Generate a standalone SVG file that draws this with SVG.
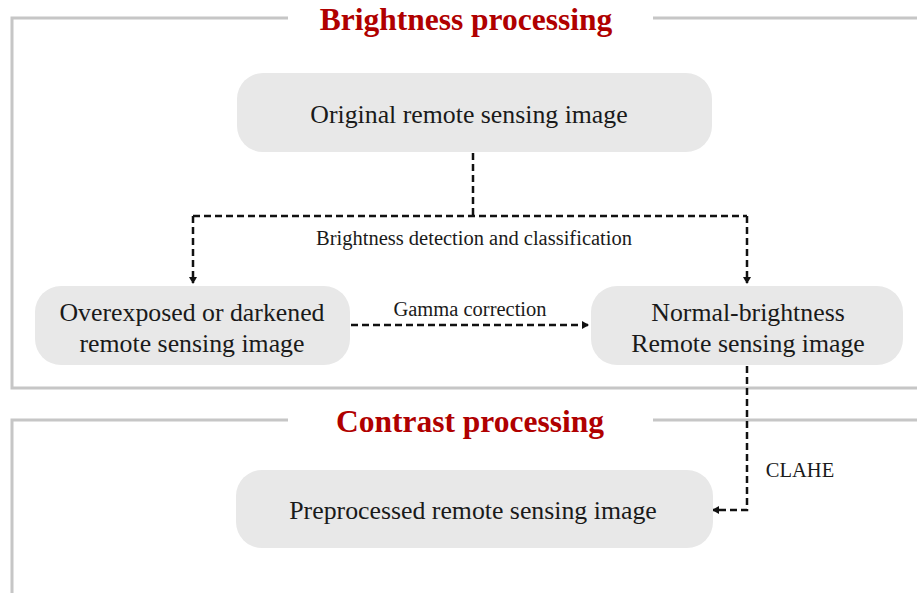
<svg xmlns="http://www.w3.org/2000/svg" width="917" height="593" viewBox="0 0 917 593">
  <style>
    .frame { fill: none; stroke: #c6c6c6; stroke-width: 3; }
    .box { fill: #e8e8e8; }
    .label { font-family: "Liberation Serif", "Times New Roman", serif; fill: #1a1a1a; text-anchor: middle; }
    .node-text { font-size: 25.8px; }
    .edge-text { font-size: 20.5px; }
    .title { font-family: "Liberation Serif", "Times New Roman", serif; font-weight: bold; font-size: 31.5px; fill: #b00000; text-anchor: middle; }
    .edge { fill: none; stroke: #111; stroke-width: 2.5; stroke-dasharray: 7 4; }
  </style>
  <defs>
    <marker id="arrow" markerWidth="8" markerHeight="8" refX="6" refY="4" orient="auto" markerUnits="userSpaceOnUse">
      <path d="M0,0 L7,4 L0,8 Z" fill="#111"/>
    </marker>
  </defs>
  <rect width="917" height="593" fill="#ffffff"/>

  <!-- section frames -->
  <g id="frames">
    <path class="frame" d="M288,18 H12 V388 H917"/>
    <path class="frame" d="M653,18 H917"/>
    <path class="frame" d="M288,420 H12 V593"/>
    <path class="frame" d="M653,420 H917"/>
  </g>

  <!-- section titles -->
  <text class="title" x="466" y="30">Brightness processing</text>
  <text class="title" x="470" y="432">Contrast processing</text>

  <!-- connectors -->
  <g id="connectors">
    <path class="edge" d="M473,153 V216"/>
    <path class="edge" d="M193,216 H747"/>
    <path class="edge" d="M193,216 V283" marker-end="url(#arrow)"/>
    <path class="edge" d="M747,216 V283" marker-end="url(#arrow)"/>
    <path class="edge" d="M351,325 H588" marker-end="url(#arrow)"/>
    <path class="edge" d="M747,366 V510 H713" marker-end="url(#arrow)"/>
    <text class="label edge-text" x="474" y="245">Brightness detection and classification</text>
    <text class="label edge-text" x="470" y="316">Gamma correction</text>
    <text class="label edge-text" x="800" y="477">CLAHE</text>
  </g>

  <!-- nodes -->
  <g id="node-original">
    <rect class="box" x="237" y="73" width="475" height="79" rx="26"/>
    <text class="label node-text" x="469" y="123">Original remote sensing image</text>
  </g>
  <g id="node-abnormal">
    <rect class="box" x="35" y="286" width="315" height="79" rx="26"/>
    <text class="label node-text" x="192" y="321">Overexposed or darkened</text>
    <text class="label node-text" x="192" y="352">remote sensing image</text>
  </g>
  <g id="node-normal">
    <rect class="box" x="591" y="286" width="312" height="79" rx="26"/>
    <text class="label node-text" x="748" y="321">Normal-brightness</text>
    <text class="label node-text" x="748" y="352">Remote sensing image</text>
  </g>
  <g id="node-preprocessed">
    <rect class="box" x="236" y="470" width="477" height="78" rx="26"/>
    <text class="label node-text" x="473" y="519">Preprocessed remote sensing image</text>
  </g>
</svg>
